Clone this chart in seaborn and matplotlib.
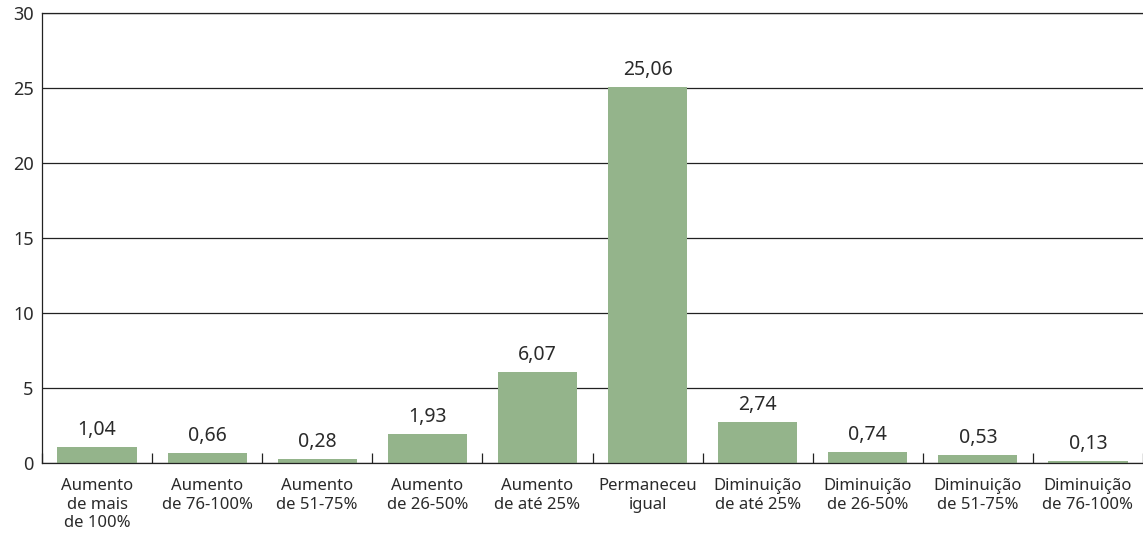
import numpy as np
import pandas as pd
import matplotlib
matplotlib.use('Agg')
import matplotlib.pyplot as plt
import seaborn as sns

# dados do gráfico
categorias = ['Aumento\nde mais\nde 100%', 'Aumento\nde 76-100%', 'Aumento\nde 51-75%',
              'Aumento\nde 26-50%', 'Aumento\nde até 25%', 'Permaneceu\nigual',
              'Diminuição\nde até 25%', 'Diminuição\nde 26-50%', 'Diminuição\nde 51-75%',
              'Diminuição\nde 76-100%']
valores = [1.04, 0.66, 0.28, 1.93, 6.07, 25.06, 2.74, 0.74, 0.53, 0.13]
y_ticks = [0, 5, 10, 15, 20, 25, 30]

df = pd.DataFrame({'cat': categorias, 'val': valores})

sns.set_style('white')
plt.rcParams['font.family'] = ['Noto Sans', 'DejaVu Sans']

fig = plt.figure(figsize=(11.43, 5.33), dpi=100)
ax = fig.add_axes([42/1143, 1-463/533, 1-42/1143, (463-13)/533])

sns.barplot(data=df, x='cat', y='val', color='#94b48b', saturation=1, width=0.72,
            linewidth=0, ax=ax)

ax.set_ylim(0, 30)
ax.set_xlim(-0.5, 9.42)
ax.set_yticks(y_ticks)
ax.set_yticklabels([str(t) for t in y_ticks], fontsize=13, color='#2a2a2a')
ax.yaxis.grid(True, color='#222222', linewidth=0.9)
ax.set_axisbelow(True)
ax.tick_params(axis='y', length=0, pad=6)
ax.tick_params(axis='x', which='major', bottom=True, length=0, pad=11, labelsize=12,
               labelcolor='#2a2a2a')
ax.set_xticks(np.arange(-0.5, 10, 1), minor=True)
ax.tick_params(axis='x', which='minor', bottom=True, direction='in', length=7, width=0.9,
               color='#222222')
ax.set_xlabel('')
ax.set_ylabel('')

for s in ['left', 'bottom', 'top']:
    ax.spines[s].set_color('#222222')
    ax.spines[s].set_linewidth(0.9)
ax.spines['right'].set_visible(False)

ax.bar_label(ax.containers[0], labels=[f'{v:.2f}'.replace('.', ',') for v in valores],
             padding=5, fontsize=14, color='#2a2a2a')

fig.savefig('out.png', dpi=100)
